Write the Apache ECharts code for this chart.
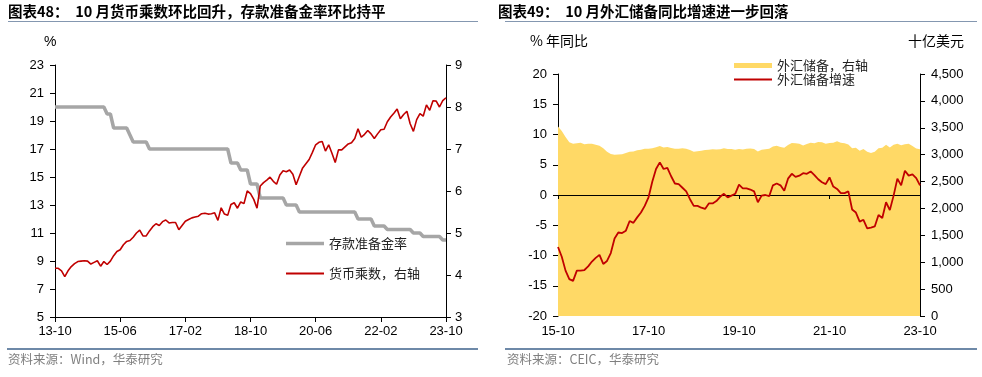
<!DOCTYPE html>
<html>
<head>
<meta charset="utf-8">
<script src="https://cdn.jsdelivr.net/npm/echarts@6/dist/echarts.min.js"></script>
<style>
  html, body { margin: 0; padding: 0; background: #fff; }
  #chart { width: 982px; height: 377px; }
</style>
</head>
<body>
<div id="chart"></div>
<script>
// 月份标签
function monthRange(start, count) {
  var y = +start.slice(0, 4), m = +start.slice(5, 7), out = [];
  for (var k = 0; k < count; k++) {
    out.push(String(y).slice(2) + '-' + (m < 10 ? '0' + m : m));
    m++;
    if (m > 12) { m = 1; y++; }
  }
  return out;
}
var monthsL = monthRange('2013-10', 121);   // 13-10 ~ 23-10
var monthsR = monthRange('2015-10', 97);    // 15-10 ~ 23-10

// 图表48：存款准备金率(%)
var rrr = [20,20,20,20,20,20,20,20,20,20,20,20,20,20,20,20,
  19.5,19.5,
  18.5,18.5,18.5,18.5,18.5,
  18,
  17.5,17.5,17.5,17.5,17.5,
  17,17,17,17,17,17,17,17,17,17,17,17,17,17,17,17,17,17,17,17,17,17,17,17,17,
  16,16,16,
  15.5,15.5,15.5,
  14.5,14.5,14.5,
  13.5,13.5,13.5,13.5,13.5,13.5,13.5,13.5,
  13,13,13,13,
  12.5,12.5,12.5,12.5,12.5,12.5,12.5,12.5,12.5,12.5,12.5,12.5,12.5,12.5,12.5,12.5,12.5,12.5,
  12,12,12,12,12,
  11.5,11.5,11.5,11.5,
  11.25,11.25,11.25,11.25,11.25,11.25,11.25,11.25,
  11,11,11,
  10.75,10.75,10.75,10.75,10.75,10.75,
  10.5,10.5];
// 货币乘数（右轴）
var multiplier = [4.16,4.16,4.10,3.96,4.10,4.20,4.27,4.32,4.33,4.34,4.33,4.26,
  4.30,4.34,4.21,4.32,4.25,4.33,4.46,4.56,4.60,4.72,4.80,4.82,
  4.90,5.00,5.07,4.93,4.93,5.05,5.15,5.22,5.18,5.27,5.31,5.24,
  5.25,5.25,5.08,5.18,5.28,5.32,5.36,5.38,5.40,5.46,5.47,5.45,
  5.46,5.48,5.30,5.60,5.45,5.42,5.68,5.72,5.59,5.74,5.70,6.00,
  5.94,5.80,5.59,6.12,6.20,6.26,6.33,6.23,6.16,6.38,6.48,6.46,
  6.50,6.40,6.15,6.35,6.55,6.65,6.75,6.92,7.10,7.16,7.18,6.95,
  7.10,6.90,6.68,6.98,6.98,7.05,7.12,7.15,7.25,7.48,7.28,7.35,
  7.44,7.36,7.25,7.36,7.46,7.47,7.65,7.76,7.85,7.95,7.72,7.82,
  7.90,7.60,7.42,7.70,7.84,7.78,8.05,7.92,8.15,8.14,8.00,8.15,
  8.22];

// 图表49：外汇储备(十亿美元，右轴)
var reserves = [3525,3438,3330,
  3231,3202,3213,3220,3192,3205,3201,3185,3166,3121,3052,3011,
  2998,3005,3009,3030,3054,3057,3081,3092,3109,3109,3119,3140,
  3161,3134,3143,3125,3111,3112,3118,3110,3087,3053,3062,3073,
  3088,3090,3099,3095,3101,3119,3104,3107,3092,3105,3096,3108,
  3116,3107,3061,3091,3102,3112,3154,3165,3143,3128,3179,3217,
  3211,3205,3170,3198,3222,3214,3236,3232,3201,3218,3222,3250,
  3222,3214,3188,3120,3128,3071,3104,3055,3029,3052,3117,3128,
  3184,3133,3184,3205,3177,3193,3204,3160,3115,3101];
// 外汇储备增速(% 年同比)
var reserveYoy = [-8.6,-10.2,-12.5,
  -13.9,-14.2,-12.5,-12.5,-12.4,-11.8,-11.0,-10.4,-9.9,-11.4,-10.9,-9.6,
  -7.2,-6.2,-6.3,-5.9,-4.3,-4.6,-3.7,-2.9,-1.8,-0.4,2.2,4.3,
  5.4,4.3,4.5,3.1,1.9,1.8,1.2,0.6,-0.7,-1.8,-1.8,-2.1,
  -2.3,-1.4,-1.4,-1.0,-0.3,0.2,-0.4,-0.1,0.2,1.7,1.1,1.1,
  0.9,0.6,-1.2,-0.1,0.0,-0.2,1.6,1.9,1.6,0.7,2.7,3.5,
  3.0,3.2,3.6,3.5,3.9,3.3,2.6,2.1,1.8,2.9,1.4,1.0,
  0.3,0.3,0.6,-2.4,-2.9,-4.4,-4.1,-5.5,-5.4,-5.2,-3.3,-3.8,
  -1.2,-2.5,-0.1,2.7,1.6,4.0,3.2,3.4,2.8,1.6];

var numFont = '"Liberation Sans", Arial, sans-serif';
var cjkFont = '"Noto Sans CJK SC", sans-serif';
var black = '#000';

function baseY(extra) {
  var o = {
    type: 'value',
    splitLine: { show: false },
    axisLine: { show: true, lineStyle: { color: black, width: 1 } },
    axisTick: { show: true, length: 5, lineStyle: { color: black } },
    axisLabel: { color: black, fontSize: 13, fontFamily: numFont, margin: 11 }
  };
  for (var k in extra) o[k] = extra[k];
  return o;
}

//单项图例
function legendItem(name, left, top, h) {
  return {
    data: [name], left: left, top: top,
    icon: 'rect', itemWidth: 38, itemHeight: h,
    textStyle: { fontSize: 13, fontFamily: cjkFont, color: '#222' },
    selectedMode: false
  };
}

var myChart = echarts.init(document.getElementById('chart'));
var option = {
  animation: false,
  grid: [
    { left: 55, top: 65, width: 391, height: 252 },
    { left: 558, top: 74, width: 362, height: 242 }
  ],
  legend: [
    legendItem('存款准备金率', 281, 232, 3.5),
    legendItem('货币乘数，右轴', 281, 262, 2),
    legendItem('外汇储备，右轴', 729, 54, 5),
    legendItem('外汇储备增速', 729, 68, 2)
  ],
  xAxis: [{
    gridIndex: 0, type: 'category', data: monthsL, boundaryGap: false,
    axisLine: { lineStyle: { color: black } },
    axisTick: { interval: 19, length: 5, lineStyle: { color: black } },
    axisLabel: { interval: 19, color: black, fontSize: 13, fontFamily: numFont, margin: 8 }
  }, {
    // 零线
    gridIndex: 1, type: 'category', data: monthsR, boundaryGap: false, position: 'bottom', z: 3,
    axisLine: { onZero: true, onZeroAxisIndex: 2, lineStyle: { color: black } },
    axisTick: { interval: 23, length: 4, lineStyle: { color: black } },
    axisLabel: { show: false }
  }, {
    gridIndex: 1, type: 'category', data: monthsR, boundaryGap: false, position: 'bottom',
    axisLine: { show: false, onZero: false },
    axisTick: { show: false },
    axisLabel: { interval: 23, color: black, fontSize: 13, fontFamily: numFont, margin: 9 }
  }],
  yAxis: [
    baseY({ gridIndex: 0, min: 5, max: 23, interval: 2 }),
    baseY({ gridIndex: 0, position: 'right', min: 3, max: 9, interval: 1,
      axisLabel: { color: black, fontSize: 13, fontFamily: numFont, margin: 9 } }),
    baseY({ gridIndex: 1, min: -20, max: 20, interval: 5 }),
    baseY({ gridIndex: 1, position: 'right', min: 0, max: 4500, interval: 500,
      axisLabel: { color: black, fontSize: 13, fontFamily: numFont, margin: 11,
        formatter: function (v) { return v.toLocaleString('en-US'); } } })
  ],
  series: [{
    name: '存款准备金率', type: 'line', xAxisIndex: 0, yAxisIndex: 0,
    data: rrr, symbol: 'none',
    lineStyle: { color: '#A6A6A6', width: 3.5 },
    itemStyle: { color: '#A6A6A6' }
  }, {
    name: '货币乘数，右轴', type: 'line', xAxisIndex: 0, yAxisIndex: 1,
    data: multiplier, symbol: 'none',
    lineStyle: { color: '#C00000', width: 1.6 },
    itemStyle: { color: '#C00000' }
  }, {
    name: '外汇储备，右轴', type: 'line', xAxisIndex: 1, yAxisIndex: 3,
    data: reserves, symbol: 'none', z: 1,
    lineStyle: { width: 0 },
    itemStyle: { color: '#FFD966' },
    areaStyle: { color: '#FFD966', opacity: 1 }
  }, {
    name: '外汇储备增速', type: 'line', xAxisIndex: 1, yAxisIndex: 2,
    data: reserveYoy, symbol: 'none', z: 4,
    lineStyle: { color: '#C00000', width: 1.8 },
    itemStyle: { color: '#C00000' }
  }],
  graphic: [
    { type: 'text', left: 8, top: 4, style: { text: '图表48：  10 月货币乘数环比回升，存款准备金率环比持平', font: 'bold 14.5px "Noto Sans CJK SC"', fill: '#000' } },
    { type: 'text', left: 498, top: 4, style: { text: '图表49：  10 月外汇储备同比增速进一步回落', font: 'bold 14.5px "Noto Sans CJK SC"', fill: '#000' } },
    { type: 'line', shape: { x1: 8, y1: 21.5, x2: 478, y2: 21.5 }, style: { stroke: '#8497B0', lineWidth: 1 } },
    { type: 'line', shape: { x1: 505, y1: 21.5, x2: 977, y2: 21.5 }, style: { stroke: '#8497B0', lineWidth: 1 } },
    { type: 'line', shape: { x1: 7, y1: 349, x2: 478, y2: 349 }, style: { stroke: '#6E89A8', lineWidth: 2 } },
    { type: 'line', shape: { x1: 505, y1: 349, x2: 977, y2: 349 }, style: { stroke: '#6E89A8', lineWidth: 2 } },
    { type: 'text', left: 44, top: 35, style: { text: '%', font: '14px "Liberation Sans", Arial', fill: '#000' } },
    { type: 'text', left: 530, top: 34, style: { text: '% 年同比', font: '14px "Noto Sans CJK SC"', fill: '#000' } },
    { type: 'text', left: 908, top: 34, style: { text: '十亿美元', font: '14px "Noto Sans CJK SC"', fill: '#000' } },
    { type: 'text', left: 8, top: 353, style: { text: '资料来源：Wind，华泰研究', font: '12.5px "Noto Sans CJK SC"', fill: '#7F7F7F' } },
    { type: 'text', left: 507, top: 353, style: { text: '资料来源：CEIC，华泰研究', font: '12.5px "Noto Sans CJK SC"', fill: '#7F7F7F' } }
  ]
};
myChart.setOption(option);
window.onresize = function () { myChart.resize(); };
</script>
</body>
</html>
